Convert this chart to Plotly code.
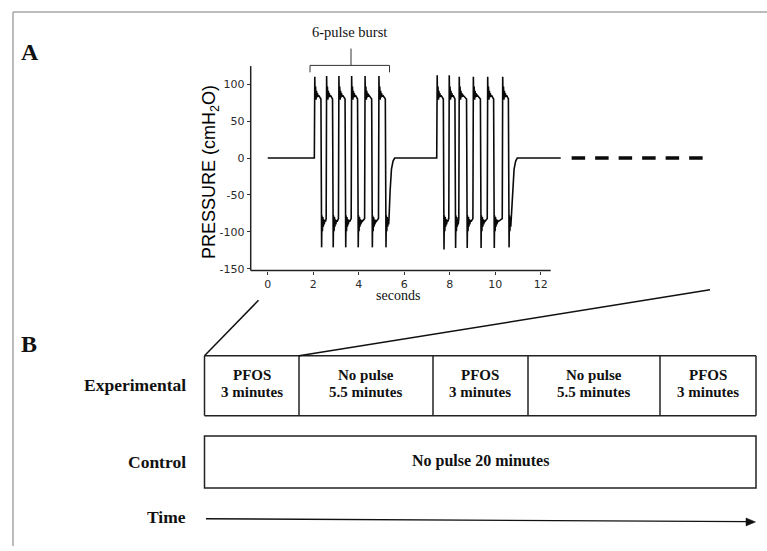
import plotly.graph_objects as go

W, H = 767, 551

# ---------------- Panel A data ----------------
burst_rise_s = [2.05, 2.57, 3.11, 3.67, 4.26, 4.87, 7.43, 7.96, 8.40, 9.02, 9.65, 10.31]
burst_fall_s = [2.35, 2.86, 3.41, 3.96, 4.58, 5.18, 7.73, 8.24, 8.75, 9.36, 9.94, 10.59]
peak_high = [110, 111, 111, 111, 111, 111, 112, 112, 110, 110, 110, 110]
peak_low = [-121, -121, -121, -121, -121, -121, -124, -122, -122, -122, -122, -121]
burst_first = [0, 6]
burst_last = [5, 11]
burst_end_s = [5.58, 10.97]
trace_start_s, trace_end_s = 0.0, 12.88
# ringing after each edge (time after edge, pressure)
ring_dt = [0.035, 0.055, 0.075, 0.095, 0.115, 0.135, 0.16, 0.19]
ring_hi = [80, 97, 79, 91, 82, 88, 83, 85]
ring_lo = [-78, -99, -80, -93, -83, -90, -84, -86]
plateau_hi, plateau_lo = 80, -82
# return-to-baseline ramp (time relative to burst end, pressure)
ramp_dt = [-0.25, -0.2, -0.14, -0.07, 0.0]
ramp_p = [-84, -45, -15, -4, 0]
dash_start_s, dash_end_s = 13.36, 19.18

x_tick_vals = [0, 2, 4, 6, 8, 10, 12]
x_tick_text = ["0", "2", "4", "6", "8", "10", "12"]
y_tick_vals = [-150, -100, -50, 0, 50, 100]
y_tick_text = ["-150", "-100", "-50", "0", "50", "100"]

# ---------------- Panel B data ----------------
exp_titles = ["PFOS", "No pulse", "PFOS", "No pulse", "PFOS"]
exp_durations = ["3 minutes", "5.5 minutes", "3 minutes", "5.5 minutes", "3 minutes"]
control_text = "No pulse 20 minutes"
row_labels = ["Experimental", "Control", "Time"]

# ---------------- build the pressure trace ----------------
t_pts, p_pts = [trace_start_s], [0.0]
for k in range(len(burst_rise_s)):
    tr, tf = burst_rise_s[k], burst_fall_s[k]
    prev = 0.0 if k in burst_first else plateau_lo
    t_pts += [tr, tr + 0.02]
    p_pts += [prev, peak_high[k]]
    for dt, v in zip(ring_dt, ring_hi):
        if tr + dt < tf - 0.02:
            t_pts.append(tr + dt); p_pts.append(v)
    t_pts += [tf - 0.01, tf + 0.02]
    p_pts += [plateau_hi, peak_low[k]]
    if k in burst_last:
        end = burst_end_s[burst_last.index(k)]
        for dt, v in zip(ring_dt, ring_lo):
            if tf + dt < end + ramp_dt[0] - 0.01:
                t_pts.append(tf + dt); p_pts.append(v)
        for dt, v in zip(ramp_dt, ramp_p):
            t_pts.append(end + dt); p_pts.append(v)
    else:
        nxt = burst_rise_s[k + 1]
        for dt, v in zip(ring_dt, ring_lo):
            if tf + dt < nxt - 0.02:
                t_pts.append(tf + dt); p_pts.append(v)
        t_pts.append(nxt - 0.01); p_pts.append(plateau_lo)
t_pts.append(trace_end_s); p_pts.append(0.0)

# ---------------- layout helpers (pixel -> paper) ----------------
def px(x):
    return x / W

def py(y):
    return 1 - y / H

fig = go.Figure()
fig.add_trace(go.Scatter(x=t_pts, y=p_pts, mode="lines",
                         line=dict(color="#0a0a0a", width=1.6),
                         hoverinfo="skip", showlegend=False))
fig.add_trace(go.Scatter(x=[dash_start_s, dash_end_s], y=[0, 0], mode="lines",
                         line=dict(color="#0a0a0a", width=3.6, dash="13.5px,10px"),
                         hoverinfo="skip", showlegend=False))

# axis geometry (pixels)
ax_left, ax_right_line, plot_right = 250.7, 550.7, 712.0
ax_top, ax_bottom = 66.7, 273.0
t0_px, px_per_s = 267.7, 22.75
p0_px, px_per_unit = 159.5, 0.745

x_range = [(ax_left - t0_px) / px_per_s, (plot_right - t0_px) / px_per_s]
y_range = [(p0_px - ax_bottom) / px_per_unit, (p0_px - ax_top) / px_per_unit]

tick_font = dict(family="DejaVu Sans", size=11, color="#2a2a2a")
fig.update_layout(
    width=W, height=H, margin=dict(l=0, r=0, t=0, b=0),
    paper_bgcolor="white", plot_bgcolor="white", showlegend=False,
    xaxis=dict(domain=[px(ax_left), px(plot_right)], range=x_range,
               tickvals=x_tick_vals, ticktext=x_tick_text, ticks="outside",
               ticklen=3, tickcolor="#333333", tickwidth=1,
               showline=False, showgrid=False, zeroline=False, tickfont=tick_font),
    yaxis=dict(domain=[py(ax_bottom), py(ax_top)], range=y_range,
               tickvals=y_tick_vals, ticktext=y_tick_text, ticks="outside",
               ticklen=3, tickcolor="#333333", tickwidth=1,
               showline=False, showgrid=False, zeroline=False, tickfont=tick_font),
)

shapes = []
def seg(x0, y0, x1, y1, color="#111111", width=1.5):
    shapes.append(dict(type="line", xref="paper", yref="paper",
                       x0=px(x0), y0=py(y0), x1=px(x1), y1=py(y1),
                       line=dict(color=color, width=width)))

# frame
seg(13, 12, 767, 12, color="#a6a6a6", width=1.5)
seg(13, 12, 13, 551, color="#a6a6a6", width=1.5)
# axes lines of panel A
seg(ax_left, ax_bottom, ax_right_line, ax_bottom, color="#222222", width=1.5)
seg(ax_left, ax_top, ax_left, ax_bottom, color="#222222", width=1.5)
# bracket
seg(310, 66, 389.5, 66, color="#333333", width=1)
seg(310, 66, 310, 73, color="#333333", width=1)
seg(389.5, 66, 389.5, 73, color="#333333", width=1)
seg(351, 49, 351, 66, color="#333333", width=1)

# panel B boxes
edges = [204.5, 299, 433, 528, 660, 756]
box_top, box_bot = 359, 419.5
seg(edges[0], box_top, edges[-1], box_top, color="#222222")
seg(edges[0], box_bot, edges[-1], box_bot, color="#222222")
for e in edges:
    seg(e, box_top, e, box_bot, color="#222222")
ctrl_top, ctrl_bot = 440, 492.5
shapes.append(dict(type="rect", xref="paper", yref="paper",
                   x0=px(edges[0]), x1=px(edges[-1]), y0=py(ctrl_bot), y1=py(ctrl_top),
                   line=dict(color="#222222", width=1.5)))
# zoom lines
seg(204.5, 359, 258.5, 303)
seg(299, 359, 710, 292.5)
# time arrow
seg(206, 523.5, 748, 526.5, color="#111111", width=1.3)
shapes.append(dict(type="path", xref="paper", yref="paper",
                   path=f"M {px(755.5)} {py(526.7)} L {px(746)} {py(522.7)} L {px(746)} {py(530.7)} Z",
                   fillcolor="#111111", line=dict(color="#111111", width=0.5)))
fig.update_layout(shapes=shapes)

ann = []
def text(x, y, s, size, family="Liberation Serif", bold=False, xanchor="center",
         color="#111111", angle=0):
    ann.append(dict(xref="paper", yref="paper", x=px(x), y=py(y),
                    text=f"<b>{s}</b>" if bold else s, showarrow=False,
                    xanchor=xanchor, yanchor="middle", textangle=angle,
                    font=dict(family=family, size=size, color=color)))

text(30, 52, "A", 24, bold=True)
text(29, 347, "B", 24, bold=True)
text(349, 32, "6-pulse burst", 14.5)
text(398, 298, "seconds", 14)
text(210.5, 174, "PRESSURE (cmH<sub>2</sub>O)", 18, family="Liberation Sans",
     angle=-90, color="#000000")

for i in range(len(exp_titles)):
    cx = (edges[i] + edges[i + 1]) / 2
    text(cx, 378, exp_titles[i], 15, bold=True)
    text(cx, 395.5, exp_durations[i], 15, bold=True)
text((edges[0] + edges[-1]) / 2, 465, control_text, 16, bold=True)

for lab, yy in zip(row_labels, [389, 466, 521.5]):
    text(188, yy, lab, 17.5, bold=True, xanchor="right")

fig.update_layout(annotations=ann)
page_fix = (
    "document.documentElement.style.margin='0';"
    "document.body.style.margin='0';"
    "document.body.style.overflow='hidden';"
    "document.querySelectorAll('.svg-container').forEach(function(e){e.style.verticalAlign='top';});"
    "var gd=document.getElementById('{plot_id}');"
    "gd.style.lineHeight='0';"
    "gd.parentElement.style.height='551px';gd.parentElement.style.overflow='hidden';"
)
fig.write_html("out.html", config={"displayModeBar": False}, post_script=page_fix)
